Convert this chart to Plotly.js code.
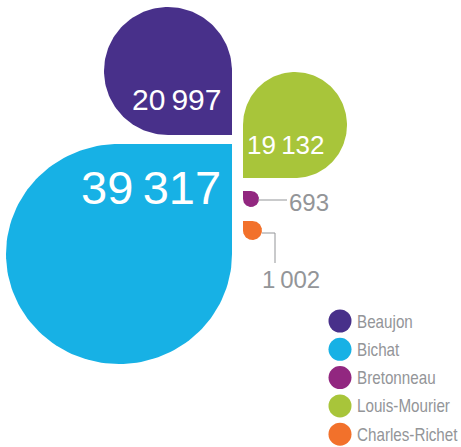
<!DOCTYPE html>
<html><head><meta charset="utf-8">
<script src="https://cdn.plot.ly/plotly-3.0.1.min.js"></script>
<style>html,body{margin:0;padding:0;background:#fff;}#chart{width:461px;height:447px;}</style>
</head><body><div id="chart"></div>
<script>
// Data
const categories = ["Beaujon", "Bichat", "Bretonneau", "Louis-Mourier", "Charles-Richet"];
const values = [20997, 39317, 693, 19132, 1002];
const valueLabels = ["20\u2009997", "39\u2009317", "693", "19\u2009132", "1\u2009002"];

// Layout / style (pixel geometry of the drops, not data)
const colors = ["#48308A", "#17B1E5", "#922780", "#A8C53A", "#F2712B"];
const centersX = [168, 119, 251, 295, 252.5];
const centersY = [71, 254, 199, 125, 230.5];
const radiiX = [64, 113, 8, 52, 9.5];
const radiiY = [64, 110, 8, 53, 9.5];
// square corner: 'br','tr','tl','bl' (screen coords, y down)
const corners = ["br", "tr", "tl", "bl", "tl"];

function dropPath(cx, cy, rx, ry, corner) {
  const startByCorner = {br: 90, tr: 0, tl: 270, bl: 180};
  const sx = corner.includes("r") ? 1 : -1;
  const sy = corner.includes("b") ? 1 : -1;
  const xs = [], ys = [];
  const a0 = startByCorner[corner];
  for (let i = 0; i <= 120; i++) {
    const a = (a0 + 270 * i / 120) * Math.PI / 180;
    xs.push(cx + rx * Math.cos(a));
    ys.push(cy + ry * Math.sin(a));
  }
  xs.push(cx + sx * rx); ys.push(cy + sy * ry);
  xs.push(xs[0]); ys.push(ys[0]);
  return {xs, ys};
}

const traces = [];
categories.forEach((c, i) => {
  const p = dropPath(centersX[i], centersY[i], radiiX[i], radiiY[i], corners[i]);
  traces.push({
    type: "scatter", mode: "lines", x: p.xs, y: p.ys, fill: "toself",
    fillcolor: colors[i], line: {width: 0, color: colors[i]},
    name: c, hoverinfo: "skip", showlegend: false
  });
});

// leader lines
const gray = "#939598";
traces.push({type: "scatter", mode: "lines", x: [258, 287], y: [200, 200],
  line: {color: gray, width: 1}, hoverinfo: "skip", showlegend: false});
traces.push({type: "scatter", mode: "lines", x: [262, 275, 275], y: [233, 233, 263],
  line: {color: gray, width: 1}, hoverinfo: "skip", showlegend: false});

// legend markers
const legX = 340, legY0 = 321, legStep = 28.3;
traces.push({type: "scatter", mode: "markers",
  x: categories.map(() => legX),
  y: categories.map((c, i) => legY0 + i * legStep),
  marker: {size: 23, color: colors}, hoverinfo: "skip", showlegend: false});

const numFont = "Liberation Sans, Arial, sans-serif";
const legFont = "Liberation Sans, Arial, sans-serif";
const legSize = 19, squeeze = 0.8;
const ctx = document.createElement("canvas").getContext("2d");
ctx.font = legSize + "px " + legFont;

const annotations = [
  {x: 222, y: 99, text: valueLabels[0], xanchor: "right", yanchor: "middle", font: {size: 30, color: "#fff", family: numFont}},
  {x: 222, y: 187, text: valueLabels[1], xanchor: "right", yanchor: "middle", font: {size: 47, color: "#fff", family: numFont}},
  {x: 246, y: 145, text: valueLabels[3], xanchor: "left", yanchor: "middle", font: {size: 26, color: "#fff", family: numFont}},
  {x: 288, y: 202, text: valueLabels[2], xanchor: "left", yanchor: "middle", font: {size: 24, color: gray, family: numFont}},
  {x: 261, y: 279, text: valueLabels[4], xanchor: "left", yanchor: "middle", font: {size: 24, color: gray, family: numFont}}
];
categories.forEach((c, i) => {
  annotations.push({x: 356, y: legY0 + i * legStep, text: c, xanchor: "left", yanchor: "middle", align: "left",
    width: Math.ceil(ctx.measureText(c).width * squeeze) + 1,
    font: {size: legSize, color: gray, family: legFont}});
});
annotations.forEach(a => { a.xref = "x"; a.yref = "y"; a.showarrow = false; a.borderpad = 0; });

const layout = {
  width: 461, height: 447, margin: {l: 0, r: 0, t: 0, b: 0},
  paper_bgcolor: "#fff", plot_bgcolor: "#fff",
  xaxis: {range: [0, 461], visible: false, fixedrange: true},
  yaxis: {range: [447, 0], visible: false, fixedrange: true},
  annotations: annotations, showlegend: false
};
Plotly.newPlot("chart", traces, layout, {staticPlot: true, displayModeBar: false}).then(gd => {
  // condense legend labels (reference uses a condensed face)
  gd.querySelectorAll(".annotation-text").forEach(t => {
    if (categories.indexOf(t.textContent) >= 0) {
      const w = t.getComputedTextLength();
      t.setAttribute("textLength", (w * squeeze).toFixed(1));
      t.setAttribute("lengthAdjust", "spacingAndGlyphs");
    }
  });
});
</script>
</body></html>
